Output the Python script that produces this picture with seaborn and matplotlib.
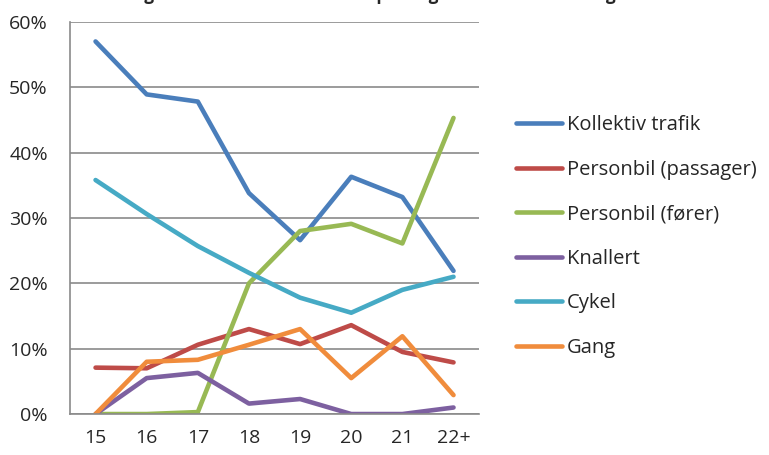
import numpy as np
import pandas as pd
import matplotlib
matplotlib.use("Agg")
import matplotlib.pyplot as plt
import seaborn as sns

# Alder (kategorier paa x-aksen)
ages = ["15", "16", "17", "18", "19", "20", "21", "22+"]

# Andel elever pr. transportform (procent)
kollektiv = [57.0, 48.9, 47.8, 33.8, 26.6, 36.3, 33.2, 21.9]
passager = [7.1, 7.0, 10.6, 13.0, 10.7, 13.6, 9.5, 7.9]
foerer = [0.0, 0.0, 0.3, 20.0, 28.0, 29.1, 26.1, 45.3]
knallert = [0.0, 5.5, 6.3, 1.6, 2.3, 0.0, 0.0, 1.0]
cykel = [35.8, 30.6, 25.7, 21.6, 17.8, 15.5, 19.0, 21.0]
gang = [0.0, 8.0, 8.3, 10.6, 13.0, 5.5, 11.9, 2.9]

series_names = ["Kollektiv trafik", "Personbil (passager)", "Personbil (fører)",
                "Knallert", "Cykel", "Gang"]
series_values = [kollektiv, passager, foerer, knallert, cykel, gang]
colors = ["#4A7EBB", "#BE4B48", "#98B954", "#7D60A0", "#46AAC5", "#F08C3C"]

rows = []
for name, vals in zip(series_names, series_values):
    for i, v in enumerate(vals):
        rows.append({"pos": i, "alder": ages[i], "type": name, "andel": v / 100})
df = pd.DataFrame(rows)

sns.set_style("white")
plt.rcParams["font.family"] = ["Open Sans", "DejaVu Sans"]

fig = plt.figure(figsize=(7.69, 4.55), dpi=100)
ax = fig.add_axes([0.091, 0.090, 0.532, 0.862])

sns.lineplot(data=df, x="pos", y="andel", hue="type", hue_order=series_names,
             palette=colors, linewidth=3.3, ax=ax, legend=True)

ax.set_xlim(-0.5, len(ages) - 0.5)
ax.set_ylim(0, 0.6)
ax.set_yticks(np.arange(0, 0.61, 0.1))
ax.set_yticklabels([f"{int(round(t * 100))}%" for t in np.arange(0, 0.61, 0.1)])
ax.yaxis.grid(True, color="#8a8a8a", linewidth=1.2)
ax.set_axisbelow(True)

# ticks mellem kategorierne, labels i midten
ax.set_xticks(np.arange(-0.5, len(ages), 1.0))
ax.set_xticklabels([])
ax.set_xticks(np.arange(len(ages)), minor=True)
ax.set_xticklabels(ages, minor=True)
ax.tick_params(axis="x", which="major", length=6, width=1.2, color="#8a8a8a", direction="out")
ax.tick_params(axis="x", which="minor", length=0, labelsize=14, pad=11)
ax.tick_params(axis="y", length=6, width=1.2, color="#8a8a8a", direction="out", labelsize=14, pad=10)

for side in ["top", "right"]:
    ax.spines[side].set_visible(False)
for side in ["left", "bottom"]:
    ax.spines[side].set_color("#8a8a8a")
    ax.spines[side].set_linewidth(1.2)

ax.set_xlabel("")
ax.set_ylabel("")

handles, labels = ax.get_legend_handles_labels()
ax.get_legend().remove()
fig.legend(handles, labels, loc="center left", bbox_to_anchor=(0.647, 0.48),
           frameon=False, fontsize=14.5, handlelength=2.3, labelspacing=1.22,
           handletextpad=0.25)

# titlen er skaaret af i toppen af billedet
fig.text(0.095, 1.0, "Fordeling af alle elever ud fra transport og alder for 15-22+ årige",
         fontsize=12.5, fontweight="bold", ha="left", va="baseline")

fig.savefig("out.png", dpi=100)
